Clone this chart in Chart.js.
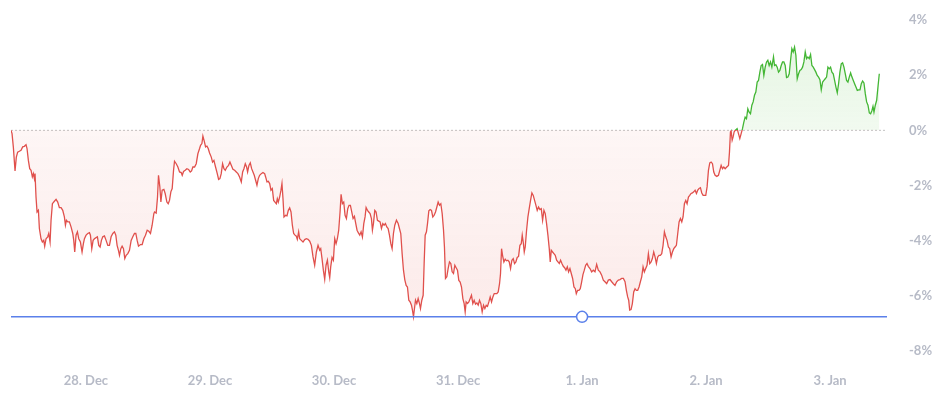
<!DOCTYPE html>
<html>
<head>
<meta charset="utf-8">
<script src="https://cdn.jsdelivr.net/npm/chart.js@4.4.0/dist/chart.umd.min.js"></script>
<style>
  html, body { margin: 0; padding: 0; background: #fff; }
  #wrap { width: 946px; height: 396px; }
</style>
</head>
<body>
<div id="wrap"><canvas id="chart" width="946" height="396"></canvas></div>
<script>
// hours since 28 Dec 00:00, and % change from the first point
const hours = [
  -14.50,-14.30,-14.05,-13.72,-13.47,-13.21,-12.88,-12.56,-12.24,-11.92,
  -11.59,-11.40,-11.14,-10.88,-10.62,-10.37,-10.17,-9.98,-9.85,-9.66,
  -9.46,-9.20,-9.01,-8.69,-8.43,-8.17,-7.98,-7.72,-7.40,-7.20,
  -6.94,-6.75,-6.49,-6.10,-5.78,-5.46,-5.14,-4.81,-4.49,-4.17,
  -3.97,-3.78,-3.52,-3.20,-2.88,-2.55,-2.36,-2.17,-1.91,-1.65,
  -1.39,-1.07,-0.75,-0.49,-0.29,0.03,0.35,0.68,0.87,1.13,
  1.39,1.64,1.97,2.22,2.48,2.74,3.00,3.26,3.58,3.90,
  4.23,4.55,4.87,5.20,5.52,5.78,6.03,6.29,6.49,6.75,
  7.00,7.26,7.52,7.78,8.10,8.42,8.75,9.07,9.39,9.65,
  9.91,10.17,10.56,10.88,11.20,11.52,11.85,12.17,12.49,12.81,
  13.14,
  13.27,13.59,13.85,14.04,14.30,14.50,14.75,15.08,15.33,15.66,
  15.92,16.17,16.43,16.69,16.95,17.14,17.47,17.79,18.11,18.43,
  18.63,18.89,19.21,19.53,19.85,20.18,20.44,20.69,21.02,21.34,
  21.66,21.99,22.18,22.44,22.63,22.89,23.15,23.41,23.66,23.92,
  24.25,24.50,24.76,25.08,25.41,25.67,25.92,26.18,26.44,26.70,
  26.96,27.28,27.60,27.86,28.12,28.44,28.77,29.09,29.41,29.73,
  30.06,30.32,30.57,30.83,31.09,31.28,31.54,31.80,32.06,32.32,
  32.57,32.83,33.09,33.35,33.61,33.93,34.25,34.58,34.77,35.03,
  35.29,35.55,35.80,36.06,36.32,36.58,36.84,37.03,37.22,37.48,
  37.74,37.93,38.13,38.32,38.64,38.90,39.16,39.42,39.68,39.94,
  40.19,40.45,40.71,40.90,41.16,
  41.36,41.68,42.00,42.33,42.65,42.97,43.30,43.62,43.94,44.26,
  44.59,44.91,45.23,45.43,45.68,45.94,46.20,46.46,46.72,46.98,
  47.17,47.36,47.62,47.88,48.14,48.40,48.65,48.91,49.17,49.37,
  49.62,49.88,50.14,50.40,50.66,50.91,51.17,51.43,51.69,51.95,
  52.21,52.46,52.72,52.98,53.24,53.50,53.76,54.01,54.21,54.47,
  54.72,54.98,55.24,55.43,55.63,55.89,56.14,56.40,56.66,56.92,
  57.18,57.44,57.69,57.95,58.21,58.47,58.73,58.99,59.24,59.50,
  59.76,60.08,60.41,60.66,60.92,61.18,61.44,61.70,61.96,62.21,
  62.47,62.73,62.99,63.18,63.38,63.57,63.77,64.02,64.28,64.54,
  64.73,64.99,65.25,65.44,65.64,65.89,66.09,66.35,66.60,66.86,
  67.12,67.38,67.64,67.90,68.15,68.41,68.67,68.93,69.19,
  69.37,69.57,69.83,70.08,70.34,70.60,70.86,71.12,71.38,71.63,
  71.89,72.15,72.41,72.67,72.93,73.18,73.38,73.57,73.83,74.09,
  74.35,74.60,74.86,75.12,75.38,75.64,75.90,76.15,76.41,76.67,
  76.93,77.19,77.45,77.70,77.96,78.22,78.48,78.74,79.00,79.25,
  79.51,79.77,80.03,80.22,80.42,80.61,80.87,81.13,81.38,81.64,
  81.90,82.16,82.42,82.68,82.93,83.19,83.45,83.71,83.97,84.23,
  84.42,84.61,84.81,85.00,85.26,85.52,85.77,86.03,86.29,86.55,
  86.81,87.07,87.32,87.58,87.84,88.10,88.36,88.62,88.87,89.13,
  89.39,89.65,89.84,90.04,90.29,90.55,90.81,91.07,91.33,91.59,
  91.84,92.10,92.36,92.62,92.88,93.14,93.39,93.65,93.91,94.17,
  94.43,94.69,94.88,95.14,95.40,95.65,95.91,96.17,96.43,96.69,
  96.95,97.20,97.53,
  97.85,98.17,98.50,98.82,99.14,99.47,99.79,100.11,100.43,100.76,
  101.08,101.40,101.73,102.05,102.37,102.69,103.02,103.34,103.66,103.99,
  104.31,104.57,104.82,105.02,105.21,105.47,105.73,105.99,106.25,106.50,
  106.76,107.02,107.28,107.54,107.80,108.05,108.31,108.57,108.83,109.09,
  109.35,109.60,109.86,110.12,110.38,110.64,110.89,111.15,111.41,111.67,
  111.93,112.19,112.44,112.70,112.96,113.22,113.48,113.74,113.99,114.25,
  114.51,114.77,115.03,115.29,115.54,115.80,116.06,116.32,116.58,116.83,
  117.09,117.35,117.61,117.87,118.13,118.38,118.64,118.90,119.16,119.42,
  119.68,119.93,120.19,120.45,120.71,120.97,121.23,121.48,121.74,122.07,
  122.39,122.65,122.91,123.16,123.42,123.68,124.00,124.33,124.52,124.71,
  124.84,125.04,125.23,125.42,125.62,
  125.75,126.00,126.26,126.52,126.78,127.04,127.30,127.55,127.81,128.07,
  128.33,128.59,128.85,129.10,129.36,129.62,129.88,130.14,130.40,130.65,
  130.91,131.17,131.43,131.69,131.94,132.20,132.46,132.72,133.04,133.24,
  133.49,133.75,134.01,134.27,134.53,134.79,135.04,135.30,135.56,135.82,
  136.08,136.34,136.59,136.85,137.11,137.37,137.63,137.89,138.14,138.40,
  138.66,138.92,139.18,139.44,139.69,139.95,140.21,140.47,140.73,140.99,
  141.24,141.50,141.76,142.02,142.28,142.54,142.79,143.05,143.31,143.57,
  143.83,144.08,144.34,144.60,144.86,145.12,145.38,145.63,145.89,146.15,
  146.41,146.67,146.93,147.18,147.44,147.70,147.96,148.22,148.48,148.73,
  148.99,149.25,149.51,149.77,150.03,150.28,150.54,150.80,151.06,151.32,
  151.58,151.83,152.09,152.29,152.48,152.74,153.00,153.25,153.51
];

const change = [
  0,-0.12,-0.60,-1.47,-0.97,-0.79,-0.76,-0.72,-0.60,-0.58,
  -0.52,-0.66,-1.09,-1.39,-1.45,-1.69,-1.57,-1.75,-1.57,-2.42,
  -2.96,-2.90,-3.56,-3.93,-4.05,-3.99,-4.20,-3.93,-3.86,-3.74,
  -4.05,-3.26,-2.66,-2.57,-2.50,-2.60,-2.80,-2.80,-2.90,-3.14,
  -3.44,-3.26,-3.32,-3.32,-3.50,-3.74,-3.99,-4.41,-3.80,-3.68,
  -3.93,-4.05,-4.41,-4.11,-3.93,-3.80,-3.74,-3.71,-3.80,-4.29,
  -3.99,-3.93,-3.89,-3.86,-4.17,-4.23,-3.99,-3.86,-3.83,-3.99,
  -4.17,-4.17,-3.86,-3.74,-3.68,-3.80,-4.17,-4.35,-4.53,-4.29,
  -4.20,-4.29,-4.65,-4.53,-4.47,-4.35,-3.99,-3.86,-3.74,-3.74,
  -3.99,-4.20,-4.14,-4.14,-3.93,-3.80,-3.62,-3.66,-3.74,-3.44,
  -3.02,
  -2.96,-3.00,-2.42,-1.63,-2.05,-2.60,-2.17,-2.14,-2.29,-2.60,
  -2.66,-2.54,-2.23,-2.11,-1.45,-1.12,-1.21,-1.33,-1.51,-1.53,
  -1.63,-1.49,-1.45,-1.39,-1.42,-1.51,-1.47,-1.33,-1.33,-1.21,
  -0.85,-0.66,-0.54,-0.48,-0.21,-0.39,-0.60,-0.57,-0.66,-0.82,
  -0.97,-1.15,-1.09,-1.33,-1.57,-1.78,-1.75,-1.57,-1.21,-1.39,
  -1.45,-1.33,-1.27,-1.15,-1.27,-1.41,-1.45,-1.51,-1.57,-1.69,
  -1.87,-1.51,-1.39,-1.21,-1.33,-1.51,-1.27,-1.18,-1.39,-1.51,
  -1.63,-1.81,-1.99,-1.75,-1.63,-1.57,-1.53,-1.57,-1.69,-1.87,
  -1.85,-1.93,-2.17,-2.11,-2.54,-2.60,-2.66,-2.48,-2.60,-2.42,
  -2.17,-1.93,-2.48,-3.14,-3.08,-3.10,-2.90,-2.81,-2.96,-3.44,
  -3.74,-3.80,-3.84,-3.95,-3.68,
  -3.93,-3.99,-4.05,-3.96,-3.93,-3.95,-4.02,-4.17,-4.59,-4.89,
  -4.41,-4.17,-4.35,-4.29,-4.65,-5.07,-5.40,-4.89,-4.71,-5.13,
  -5.34,-4.95,-4.61,-4.71,-3.93,-4.11,-3.93,-3.62,-2.96,-2.32,
  -2.66,-2.60,-3.08,-3.20,-2.84,-2.72,-2.72,-2.96,-3.20,-3.12,
  -3.38,-3.62,-3.72,-3.80,-3.68,-3.87,-3.38,-3.14,-2.80,-2.90,
  -2.96,-3.02,-3.20,-3.62,-3.38,-2.90,-2.96,-3.26,-3.29,-3.32,
  -3.56,-3.38,-3.44,-3.38,-3.50,-3.56,-3.80,-4.11,-4.29,-3.74,
  -3.44,-3.26,-3.38,-3.56,-3.74,-4.47,-5.07,-5.42,-5.62,-5.68,
  -6.16,-6.22,-6.34,-6.52,-6.76,-6.46,-6.16,-6.28,-6.10,-6.28,
  -6.46,-6.16,-5.98,-4.83,-3.80,-3.68,-3.38,-2.92,-2.87,-2.90,
  -3.14,-3.08,-2.96,-2.78,-2.60,-2.72,-2.66,-3.02,-3.62,
  -4.23,-5.37,-5.31,-5.01,-4.77,-4.83,-5.13,-5.19,-4.89,-4.98,
  -5.07,-5.44,-5.50,-5.68,-6.10,-6.28,-6.58,-6.22,-6.28,-6.22,
  -6.10,-5.98,-6.28,-6.16,-6.30,-6.26,-6.34,-6.16,-6.28,-6.58,
  -6.34,-6.46,-6.34,-6.38,-6.22,-6.04,-6.22,-6.04,-5.92,-5.92,
  -5.92,-5.86,-5.56,-5.19,-4.29,-4.53,-4.77,-4.67,-4.73,-4.71,
  -4.77,-5.01,-4.71,-4.65,-4.83,-4.77,-4.61,-4.57,-4.17,-4.11,
  -3.80,-4.05,-4.41,-4.23,-3.62,-3.14,-2.84,-2.54,-2.27,-2.36,
  -2.54,-2.72,-2.90,-2.78,-2.87,-2.84,-3.26,-2.90,-3.02,-3.38,
  -3.80,-4.29,-4.77,-4.35,-4.41,-4.47,-4.53,-4.71,-4.77,-4.83,
  -4.71,-4.83,-4.93,-4.98,-5.07,-4.95,-5.13,-5.01,-5.19,-5.37,
  -5.68,-5.74,-5.92,-5.80,-5.80,-5.74,-5.50,-5.23,-5.07,-4.89,
  -4.83,-4.93,-5.01,
  -5.13,-5.07,-5.13,-4.86,-5.07,-5.13,-5.25,-5.43,-5.49,-5.56,
  -5.43,-5.41,-5.49,-5.56,-5.62,-5.49,-5.43,-5.41,-5.37,-5.37,
  -5.49,-5.80,-6.04,-6.16,-6.52,-6.50,-6.28,-5.86,-5.74,-5.80,
  -5.80,-5.68,-5.49,-5.31,-4.95,-5.13,-5.01,-4.89,-4.47,-4.83,
  -4.77,-4.65,-4.41,-4.59,-4.83,-4.59,-4.53,-4.53,-4.47,-4.17,
  -3.68,-3.86,-3.99,-4.23,-4.29,-4.59,-4.41,-4.29,-4.23,-4.17,
  -3.74,-3.32,-3.20,-3.32,-3.14,-2.66,-2.54,-2.66,-2.42,-2.36,
  -2.29,-2.27,-2.23,-2.17,-2.29,-2.17,-2.11,-2.08,-2.27,-2.36,
  -2.36,-2.36,-2.05,-1.45,-1.18,-1.15,-1.21,-1.51,-1.63,-1.67,
  -1.63,-1.45,-1.27,-1.39,-1.33,-1.39,-1.33,-1.27,-0.79,-0.06,
  -0.02,-0.36,-0.24,-0.06,0.00,
  0.02,0.06,-0.12,-0.30,-0.12,0.06,0.30,0.48,0.42,0.78,
  0.66,0.60,0.91,1.03,1.27,1.39,1.75,1.81,2.11,2.35,
  2.39,1.99,2.29,2.48,2.54,2.35,2.48,2.29,2.66,2.35,
  2.38,2.29,2.11,2.17,2.35,2.48,2.48,2.35,1.91,1.93,
  2.05,2.54,2.96,2.84,3.02,2.72,1.87,2.05,2.17,2.20,
  2.29,2.48,2.84,2.60,2.66,2.60,2.75,2.35,2.29,2.20,
  2.11,1.99,1.93,1.84,1.47,1.75,1.81,1.87,1.93,2.29,
  2.23,2.29,2.11,2.05,1.81,1.57,1.36,1.69,2.11,2.41,
  2.45,2.29,2.05,1.81,1.75,1.93,2.08,1.93,1.81,1.69,
  1.57,1.45,1.47,1.47,1.69,1.79,1.72,1.33,1.03,0.91,
  0.63,0.60,0.72,0.87,0.66,0.91,1.09,1.57,2.05
];

// x axis day ticks (hours since 28 Dec 00:00)
const dayTicks = [0, 24, 48, 72, 96, 120, 144];
const dayLabels = ["28. Dec", "29. Dec", "30. Dec", "31. Dec", "1. Jan", "2. Jan", "3. Jan"];
const yTicks = [-8, -6, -4, -2, 0, 2, 4];

const xMin = -14.5;
const xMax = 155;
const markerHour = 96;

const UP = "#43b634";
const DOWN = "#e0504c";
const LOW = "#5b80ea";
const AXIS_TXT = "#b7bbc7";

const n = Math.min(hours.length, change.length);
const series = [];
for (let i = 0; i < n; i++) series.push({ x: hours[i], y: change[i] });
const lowLevel = Math.min(...change.slice(0, n));

// colour split exactly at the zero line
function zeroSplit(ctx, top, bottom, fallback) {
  const chart = ctx.chart;
  const area = chart.chartArea;
  if (!area) return fallback;
  const y0 = chart.scales.y.getPixelForValue(0);
  const s = Math.min(1, Math.max(0, (y0 - area.top) / (area.bottom - area.top)));
  const g = chart.ctx.createLinearGradient(0, area.top, 0, area.bottom);
  top.forEach(([p, c]) => g.addColorStop(p * s, c));
  bottom.forEach(([p, c]) => g.addColorStop(s + p * (1 - s), c));
  return g;
}

const ctx = document.getElementById("chart").getContext("2d");
new Chart(ctx, {
  type: "line",
  data: {
    datasets: [
      {
        // handle on the low line
        data: [{ x: markerHour, y: lowLevel }],
        showLine: false,
        pointRadius: 5.5,
        pointBackgroundColor: "#ffffff",
        pointBorderColor: LOW,
        pointBorderWidth: 1.5,
      },
      {
        data: [{ x: xMin, y: lowLevel }, { x: xMax, y: lowLevel }],
        borderColor: LOW,
        borderWidth: 1.4,
        pointRadius: 0,
        fill: false,
      },
      {
        data: series,
        borderWidth: 1.3,
        pointRadius: 0,
        tension: 0,
        borderColor: (c) => zeroSplit(c, [[0, UP], [1, UP]], [[0, DOWN], [1, DOWN]], DOWN),
        backgroundColor: (c) => zeroSplit(c,
          [[0, "rgba(80,190,60,0.16)"], [1, "rgba(80,190,60,0.08)"]],
          [[0, "rgba(228,80,70,0.05)"], [1, "rgba(228,80,70,0.13)"]],
          "rgba(228,80,70,0.08)"),
        fill: { value: 0 },
      },
      {
        data: [{ x: xMin, y: 0 }, { x: xMax, y: 0 }],
        borderColor: "#c2c2c2",
        borderWidth: 1,
        borderDash: [2, 2],
        pointRadius: 0,
        fill: false,
      },
    ],
  },
  options: {
    responsive: false,
    animation: false,
    layout: { padding: { left: 11, top: 20, right: 12, bottom: 7 } },
    plugins: { legend: { display: false }, tooltip: { enabled: false } },
    scales: {
      x: {
        type: "linear",
        min: xMin,
        max: xMax,
        grid: { display: false, drawTicks: false },
        border: { display: false },
        afterBuildTicks: (s) => { s.ticks = dayTicks.map((v) => ({ value: v })); },
        afterFit: (s) => { s.height = 38; s.paddingLeft = 0; s.paddingRight = 0; },
        ticks: {
          autoSkip: false,
          maxRotation: 0,
          padding: 22,
          color: AXIS_TXT,
          font: { family: "Lato", size: 13, weight: "bold" },
          callback: (v, i) => dayLabels[i],
        },
      },
      y: {
        position: "right",
        min: -8,
        max: 4,
        grid: { display: false, drawTicks: false },
        border: { display: false },
        afterBuildTicks: (s) => { s.ticks = yTicks.map((v) => ({ value: v })); },
        afterFit: (s) => { s.width = 47; s.paddingTop = 0; s.paddingBottom = 0; },
        ticks: {
          padding: 22,
          color: AXIS_TXT,
          font: { family: "Lato", size: 13, weight: "bold" },
          callback: (v) => v + "%",
        },
      },
    },
  },
});
</script>
</body>
</html>
